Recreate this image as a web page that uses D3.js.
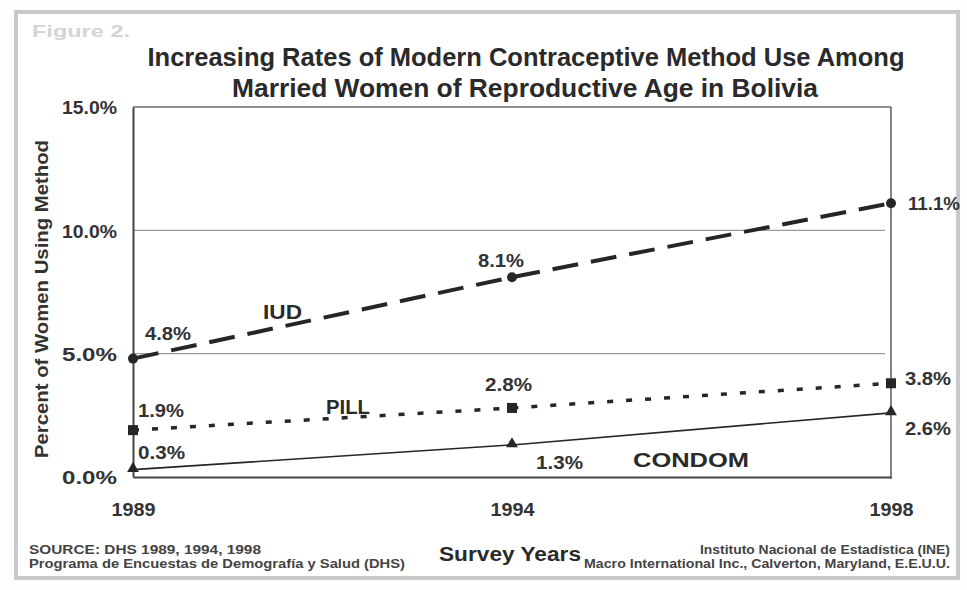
<!DOCTYPE html>
<html><head><meta charset="utf-8">
<script src="https://cdn.jsdelivr.net/npm/d3@7"></script>
<style>html,body{margin:0;padding:0;background:#fff;}svg{display:block;font-family:"Liberation Sans",Arial,sans-serif;}</style>
</head><body>
<script>
const years = ["1989", "1994", "1998"];
const iud = [4.8, 8.1, 11.1];
const pill = [1.9, 2.8, 3.8];
const condom = [0.3, 1.3, 2.6];
const yTicks = [0, 5, 10, 15];
const seriesNames = ["IUD", "PILL", "CONDOM"];

const W = 967, H = 590;
const svg = d3.select("body").append("svg").attr("width", W).attr("height", H);
const ink = "#262626";

function fit(sel, w) { return sel.attr("textLength", w).attr("lengthAdjust", "spacingAndGlyphs"); }

// outer frame
svg.append("rect").attr("x", 0).attr("y", 0).attr("width", W).attr("height", H).attr("fill", "#fdfdfd");
svg.append("rect").attr("x", 16).attr("y", 12).attr("width", 942).attr("height", 566)
  .attr("fill", "#ffffff").attr("stroke", "#c9c9c9").attr("stroke-width", 4);

const x = d3.scalePoint().domain(years).range([133, 891]);
const y = d3.scaleLinear().domain([0, 15]).range([477, 107]);

// gridlines
svg.append("g").selectAll("line").data([5, 10]).join("line")
  .attr("x1", 133).attr("x2", 885).attr("y1", d => y(d)).attr("y2", d => y(d))
  .attr("stroke", "#9a9a9a").attr("stroke-width", 1.2);

// plot box
svg.append("line").attr("x1", 133).attr("x2", 891).attr("y1", y(15)).attr("y2", y(15)).attr("stroke", "#6a6a6a").attr("stroke-width", 1.5);
svg.append("line").attr("x1", 891).attr("x2", 891).attr("y1", y(15)).attr("y2", y(0) + 2).attr("stroke", "#5a5a5a").attr("stroke-width", 1.5);

// y axis
const yAxis = d3.axisLeft(y).tickValues(yTicks).tickFormat(d => d3.format(".1f")(d) + "%").tickSize(0).tickPadding(16);
const ga = svg.append("g").attr("transform", "translate(133,0)").call(yAxis);
ga.select(".domain").attr("stroke", "#444").attr("stroke-width", 2);
ga.selectAll("text").attr("font-size", 19).attr("font-weight", "bold").attr("fill", "#333")
  .attr("dy", "0.36em").each(function () { fit(d3.select(this), 55); });

// x axis
const xAxis = d3.axisBottom(x).tickSize(0).tickPadding(26);
const gx = svg.append("g").attr("transform", `translate(0,${y(0)})`).call(xAxis);
gx.select(".domain").attr("stroke", "#444").attr("stroke-width", 2);
gx.selectAll("text").attr("font-size", 19).attr("font-weight", "bold").attr("fill", "#333")
  .each(function () { fit(d3.select(this), 44); });

const line = d3.line().x((d, i) => x(years[i])).y(d => y(d));

svg.append("path").datum(iud).attr("d", line).attr("fill", "none").attr("stroke", ink)
  .attr("stroke-width", 4).attr("stroke-dasharray", "26,13");
svg.append("path").datum(pill).attr("d", line).attr("fill", "none").attr("stroke", ink)
  .attr("stroke-width", 3.5).attr("stroke-dasharray", "6,13");
svg.append("path").datum(condom).attr("d", line).attr("fill", "none").attr("stroke", ink)
  .attr("stroke-width", 1.6);

// markers
svg.append("g").selectAll("circle").data(iud).join("circle")
  .attr("cx", (d, i) => x(years[i])).attr("cy", d => y(d)).attr("r", 5).attr("fill", ink);
svg.append("g").selectAll("rect").data(pill).join("rect")
  .attr("x", (d, i) => x(years[i]) - 5).attr("y", d => y(d) - 5).attr("width", 10).attr("height", 10).attr("fill", ink);
svg.append("g").selectAll("path").data(condom).join("path")
  .attr("d", d3.symbol(d3.symbolTriangle, 60))
  .attr("transform", (d, i) => `translate(${x(years[i])},${y(d) - 1})`).attr("fill", ink);

// value labels
const fmt = d => d3.format(".1f")(d) + "%";
const lab = (txt, px, py, w, anchor) => {
  const t = svg.append("text").attr("x", px).attr("y", py).text(txt)
    .attr("font-size", 18).attr("font-weight", "bold").attr("fill", "#333")
    .attr("text-anchor", anchor || "start");
  if (w) fit(t, w);
  return t;
};
// IUD
lab(fmt(iud[0]), x(years[0]) + 12, y(iud[0]) - 19, 46);
lab(fmt(iud[1]), x(years[1]) - 34, y(iud[1]) - 10, 46);
lab(fmt(iud[2]), x(years[2]) + 17, y(iud[2]) + 7, 52);
// PILL
lab(fmt(pill[0]), x(years[0]) + 5, y(pill[0]) - 13, 46);
lab(fmt(pill[1]), x(years[1]) - 27, y(pill[1]) - 17, 47);
lab(fmt(pill[2]), x(years[2]) + 14, y(pill[2]) + 2, 46);
// CONDOM
lab(fmt(condom[0]), x(years[0]) + 5, y(condom[0]) - 11, 47);
lab(fmt(condom[1]), x(years[1]) + 24, y(condom[1]) + 24, 47);
lab(fmt(condom[2]), x(years[2]) + 14, y(condom[2]) + 22, 46);

// series labels
const slab = (txt, px, py, w) => fit(svg.append("text").attr("x", px).attr("y", py).text(txt)
  .attr("font-size", 20).attr("font-weight", "bold").attr("fill", "#2a2a2a"), w);
slab(seriesNames[0], 263, 319, 39);
slab(seriesNames[1], 326, 414, 44);
slab(seriesNames[2], 633, 467, 116);

// titles
const tt = (txt, cx, py, w, fs, col) => fit(svg.append("text").attr("x", cx).attr("y", py).text(txt)
  .attr("text-anchor", "middle").attr("font-size", fs).attr("font-weight", "bold").attr("fill", col || "#2a2a2a"), w);
tt("Increasing Rates of Modern Contraceptive Method Use Among", 526, 66, 757, 25);
tt("Married Women of Reproductive Age in Bolivia", 525, 97, 586, 25);
svg.append("text").attr("x", 32).attr("y", 37).text("Figure 2.").attr("font-size", 17)
  .attr("font-weight", "bold").attr("fill", "#d4d4d4").attr("textLength", 98).attr("lengthAdjust", "spacingAndGlyphs");

// axis titles
tt("Survey Years", 510, 561, 142, 21);
fit(svg.append("text").attr("transform", "translate(48,299) rotate(-90)").attr("text-anchor", "middle")
  .text("Percent of Women Using Method").attr("font-size", 19).attr("font-weight", "bold").attr("fill", "#333"), 318);

// source notes
const note = (txt, px, py, w, anchor) => fit(svg.append("text").attr("x", px).attr("y", py).text(txt)
  .attr("text-anchor", anchor).attr("font-size", 12).attr("font-weight", "bold").attr("fill", "#444"), w);
note("SOURCE: DHS 1989, 1994, 1998", 29, 554, 232, "start");
note("Programa de Encuestas de Demografía y Salud (DHS)", 29, 568, 376, "start");
note("Instituto Nacional de Estadística (INE)", 950, 554, 250, "end");
note("Macro International Inc., Calverton, Maryland, E.E.U.U.", 950, 568, 366, "end");
</script>
</body></html>
